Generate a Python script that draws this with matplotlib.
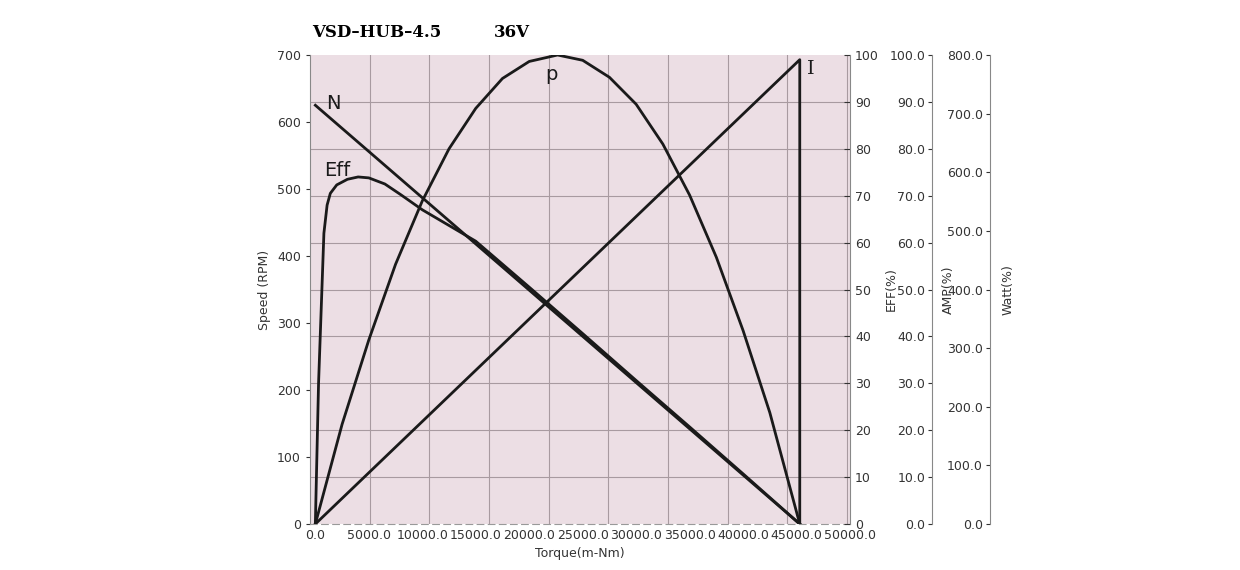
import matplotlib
matplotlib.use("Agg")
import matplotlib.pyplot as plt
import numpy as np

torque_n = [0, 45300]
speed_n = [625, 0]
torque_i = [0, 45300, 45300]
amp_i = [0, 99, 0]
torque_eff = [0, 300, 800, 1100, 1400, 2000, 3000, 4000, 5000, 6500, 8000, 10000, 15000, 20000, 25000, 30000, 35000, 40000, 45300]
eff = [0, 30, 62, 68, 70.5, 72.3, 73.5, 74, 73.8, 72.5, 70.2, 67, 60.3, 50.5, 40.6, 30.6, 20.7, 10.7, 0]
torque_p = [0, 2500, 5000, 7500, 10000, 12500, 15000, 17500, 20000, 22650, 25000, 27500, 30000, 32500, 35000, 37500, 40000, 42500, 45300]
watt_p = [0, 170, 314, 443, 551, 640, 709, 760, 789, 800, 791, 762, 716, 648, 561, 455, 330, 190, 0]
x_ticks = [0, 5000, 10000, 15000, 20000, 25000, 30000, 35000, 40000, 45000, 50000]

fig = plt.figure(figsize=(12.4, 5.7), dpi=100)
ax = fig.add_axes([0.25, 0.0807, 0.4355, 0.8228])
ax.set_facecolor('#ecdee4')
lc = '#1a1a1a'
tc = '#333333'
ax.set_xlim(-500, 50000)
ax.set_ylim(0, 700)
ax.set_xticks(x_ticks)
ax.set_xticklabels([f"{v:.1f}" for v in x_ticks], fontsize=9, color=tc)
ax.set_yticks(range(0, 701, 100))
ax.tick_params(axis='y', labelsize=9, colors=tc, length=3)
ax.tick_params(axis='x', length=0)
ax.set_xlabel('Torque(m-Nm)', fontsize=9, color=tc)
ax.set_ylabel('Speed (RPM)', fontsize=9, color=tc)
for s in ['top', 'right']:
    ax.spines[s].set_visible(False)
ax.spines['left'].set_color('#888888')
ax.spines['bottom'].set_color('#999999')
ax.spines['bottom'].set_linestyle((0, (6, 4)))
for i in range(1, 10):
    ax.axvline(-500 + i * 50500 / 9.05, color='#a89aa0', lw=0.8, zorder=0)
for i in range(1, 10):
    ax.axhline(i * 70, color='#a89aa0', lw=0.8, zorder=0)

ax.plot(torque_n, speed_n, color=lc, lw=2)

ae = ax.twinx()
ae.set_ylim(0, 100)
ae.set_yticks(range(0, 101, 10))
ae.tick_params(axis='y', labelsize=9, colors=tc, direction='in', length=4)
ae.spines['right'].set_color('#888888')
for s in ['top', 'left', 'bottom']:
    ae.spines[s].set_visible(False)
ae.set_ylabel('EFF(%)', fontsize=9, color=tc, labelpad=4)
ae.plot(torque_eff, eff, color=lc, lw=2)

def side_axis(pos, top, step):
    a = ax.twinx()
    a.set_ylim(0, top)
    a.yaxis.set_ticks_position('left')
    a.yaxis.set_label_position('right')
    a.spines['left'].set_visible(True)
    a.spines['left'].set_position(('axes', pos))
    a.spines['left'].set_color('#888888')
    for s in ['top', 'right', 'bottom']:
        a.spines[s].set_visible(False)
    a.set_yticks(np.arange(0, top + 1, step))
    a.set_yticklabels([f"{v:.1f}" for v in np.arange(0, top + 1, step)])
    a.tick_params(axis='y', labelsize=9, colors=tc, direction='out', length=3, pad=2)
    return a

aa = side_axis(1.152, 100, 10)
aa.set_ylabel('AMP(%)', fontsize=9, color=tc, labelpad=8)
aa.plot(torque_i, amp_i, color=lc, lw=2)

aw = side_axis(1.259, 800, 100)
aw.set_ylabel('Watt(%)', fontsize=9, color=tc, labelpad=10)
aw.plot(torque_p, watt_p, color=lc, lw=2)
aa.yaxis.label.set_position((0, 0.5))
aa.yaxis.set_label_coords(1.17, 0.5)
aw.yaxis.set_label_coords(1.28, 0.5)

ax.text(1000, 620, 'N', fontsize=14, color=lc)
ax.text(800, 520, 'Eff', fontsize=14, color=lc)
ax.text(21500, 662, 'p', fontsize=14, color=lc)
ax.text(46000, 672, 'I', fontsize=14, color=lc, family='DejaVu Serif')
fig.text(0.252, 0.935, 'VSD\u2013HUB\u20134.5', fontsize=12, fontweight='bold', family='DejaVu Serif')
fig.text(0.398, 0.935, '36V', fontsize=12, fontweight='bold', family='DejaVu Serif')
fig.savefig('out.png', dpi=100)
